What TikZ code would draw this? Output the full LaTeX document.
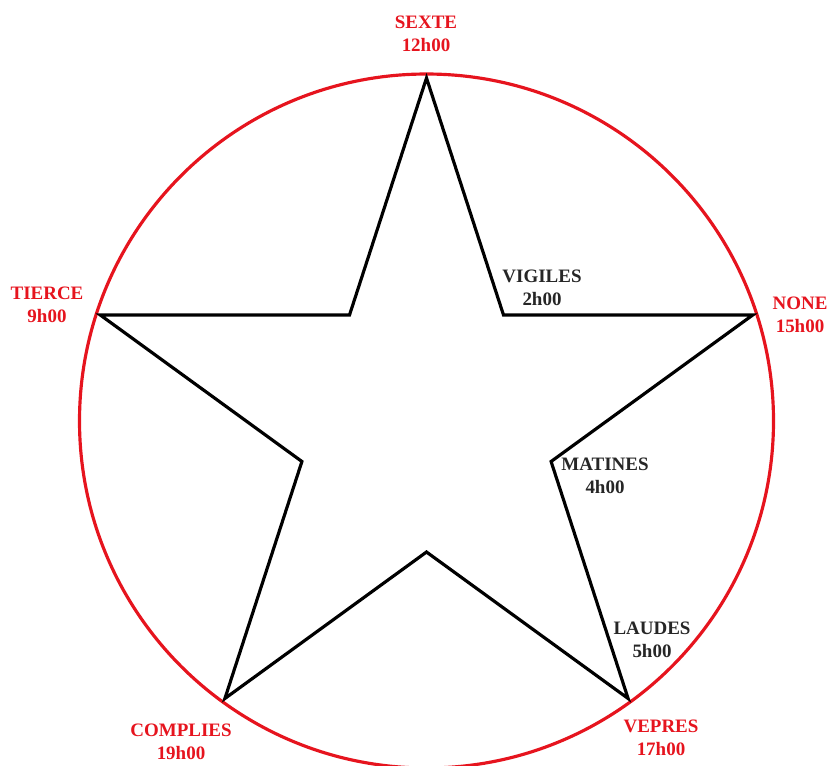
\documentclass[tikz,border=0pt]{standalone}
\usepackage{fontspec}
\setmainfont{Liberation Serif}
\usepackage{tikz}
\usetikzlibrary{calc}
\definecolor{horaRed}  {RGB}{230, 20, 30}
\definecolor{horaBlack}{RGB}{0, 0, 0}

\begin{document}
\begin{tikzpicture}[x=0.02cm,y=-0.02cm,
    office/.style={font=\fontsize{10.8}{13}\selectfont\bfseries,text=horaRed,align=center,inner sep=0pt},
    night/.style={font=\fontsize{10.8}{13}\selectfont\bfseries,text=horaBlack!85,align=center,inner sep=0pt}]

    \clip (0,0) rectangle (827,765);
    \useasboundingbox (0,0) rectangle (827,765);

    % cercle des heures
    \coordinate (c) at (426.5,421);
    \draw[horaRed,line width=1.8pt] (c) circle[radius=347];

    % etoile : pointes et creux
    \foreach \a [count=\i] in {90,162,234,306,18}{
      \coordinate (p\i) at ($(c)+({343*cos(\a)},{-343*sin(\a)})$);
      \coordinate (q\i) at ($(c)+({131*cos(\a+36)},{-131*sin(\a+36)})$);
    }
    \draw[horaBlack,line width=1.8pt,line join=miter]
      (p1)--(q1)--(p2)--(q2)--(p3)--(q3)--(p4)--(q4)--(p5)--(q5)--cycle;

    % offices
    \node[office] (sexte)    at (426,34)  {SEXTE\\12h00};
    \node[office] (tierce)   at (47,305)  {TIERCE\\9h00};
    \node[office] (none)     at (800,315) {NONE\\15h00};
    \node[office] (vepres)   at (661,738) {VEPRES\\17h00};
    \node[office] (complies) at (181,742) {COMPLIES\\19h00};

    % heures de nuit
    \node[night] (vigiles) at (542,288) {VIGILES\\2h00};
    \node[night] (matines) at (605,476) {MATINES\\4h00};
    \node[night] (laudes)  at (652,640) {LAUDES\\5h00};

  \end{tikzpicture}
\end{document}
